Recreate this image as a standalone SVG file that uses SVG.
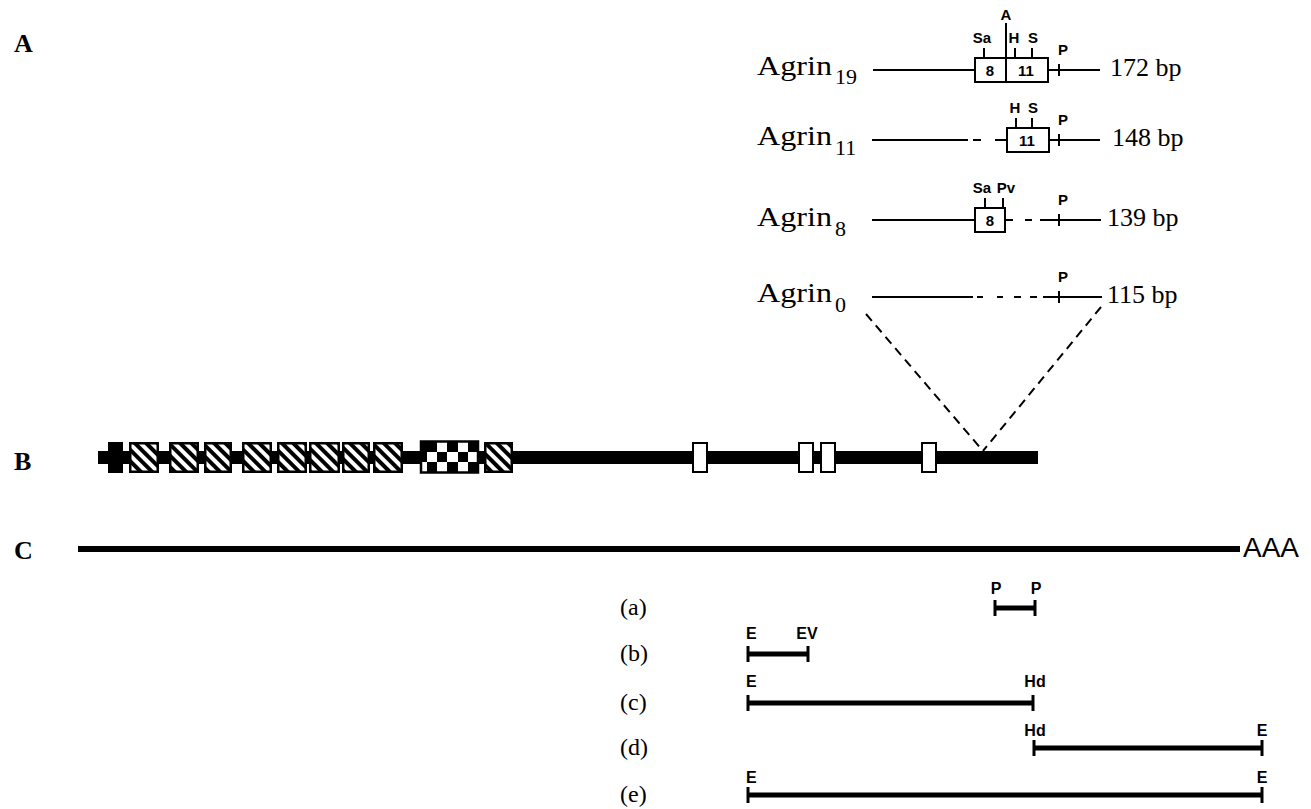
<svg xmlns="http://www.w3.org/2000/svg" width="1311" height="809" viewBox="0 0 1311 809">
<defs>
<style>
.panel{font-family:"Liberation Serif",serif;font-weight:bold;font-size:26px;fill:#000}
.agr{font-family:"Liberation Serif",serif;font-size:28px;fill:#000}
.sub{font-family:"Liberation Serif",serif;font-size:22px;fill:#000}
.bp{font-family:"Liberation Serif",serif;font-size:26px;fill:#000}
.site{font-family:"Liberation Sans",Arial,sans-serif;font-weight:bold;font-size:15px;text-anchor:middle;fill:#000}
.exn{font-family:"Liberation Sans",Arial,sans-serif;font-weight:bold;font-size:15px;text-anchor:middle;fill:#000}
.ln{stroke:#000;stroke-width:2;fill:none}
.box{fill:#fff;stroke:#000;stroke-width:2}
.tk{stroke:#000;stroke-width:2}
.frag{stroke:#000;stroke-width:5}
.ftk{stroke:#000;stroke-width:3}
.flab{font-family:"Liberation Serif",serif;font-size:24px;fill:#000}
.fsite{font-family:"Liberation Sans",Arial,sans-serif;font-weight:bold;font-size:16px;fill:#000}
.hat{fill:url(#hatch);stroke:#000;stroke-width:2.5}
.exo{fill:#fff;stroke:#000;stroke-width:2}
.dash{stroke:#000;stroke-width:2;stroke-dasharray:9 6;fill:none}
</style>
<pattern id="hatch" patternUnits="userSpaceOnUse" width="8" height="8" patternTransform="rotate(45)">
<rect width="8" height="8" fill="#fff"/>
<rect width="8" height="4" fill="#000"/>
</pattern>
</defs>
<rect width="1311" height="809" fill="#fff"/>

<g id="panel-labels">
<text class="panel" x="14" y="52">A</text>
<text class="panel" x="14" y="470">B</text>
<text class="panel" x="14" y="559">C</text>
</g>

<g id="agrin19">
<text class="agr" x="757" y="75" textLength="75" lengthAdjust="spacingAndGlyphs">Agrin</text>
<text class="sub" x="835" y="84">19</text>
<line class="ln" x1="873" y1="70" x2="975" y2="70"/>
<rect class="box" x="975" y="58" width="73" height="24"/>
<line class="ln" x1="1006" y1="23" x2="1006" y2="82"/>
<text class="site" x="1006" y="20">A</text>
<line class="tk" x1="984" y1="48" x2="984" y2="58"/>
<line class="tk" x1="1015" y1="48" x2="1015" y2="58"/>
<line class="tk" x1="1032" y1="48" x2="1032" y2="58"/>
<text class="site" x="982" y="43">Sa</text>
<text class="site" x="1014" y="43">H</text>
<text class="site" x="1033" y="43">S</text>
<text class="exn" x="990" y="76">8</text>
<text class="exn" x="1026" y="76">11</text>
<line class="ln" x1="1048" y1="70" x2="1100" y2="70"/>
<line class="tk" x1="1059" y1="64" x2="1059" y2="76"/>
<text class="site" x="1063" y="55">P</text>
<text class="bp" x="1110" y="76">172 bp</text>
</g>

<g id="agrin11">
<text class="agr" x="757" y="145" textLength="75" lengthAdjust="spacingAndGlyphs">Agrin</text>
<text class="sub" x="835" y="155">11</text>
<line class="ln" x1="872" y1="140" x2="968" y2="140"/>
<line class="ln" x1="973" y1="140" x2="981" y2="140"/>
<line class="ln" x1="995" y1="140" x2="1007" y2="140"/>
<rect class="box" x="1007" y="128" width="42" height="24"/>
<text class="exn" x="1027" y="146">11</text>
<line class="tk" x1="1016" y1="118" x2="1016" y2="128"/>
<line class="tk" x1="1032" y1="118" x2="1032" y2="128"/>
<text class="site" x="1015" y="113">H</text>
<text class="site" x="1033" y="113">S</text>
<line class="ln" x1="1049" y1="140" x2="1100" y2="140"/>
<line class="tk" x1="1059" y1="134" x2="1059" y2="146"/>
<text class="site" x="1063" y="125">P</text>
<text class="bp" x="1112" y="146">148 bp</text>
</g>

<g id="agrin8">
<text class="agr" x="757" y="226" textLength="75" lengthAdjust="spacingAndGlyphs">Agrin</text>
<text class="sub" x="835" y="236">8</text>
<line class="ln" x1="872" y1="220" x2="975" y2="220"/>
<rect class="box" x="975" y="208" width="30" height="24"/>
<text class="exn" x="990" y="226">8</text>
<line class="tk" x1="985" y1="198" x2="985" y2="208"/>
<line class="tk" x1="1003" y1="198" x2="1003" y2="208"/>
<text class="site" x="982" y="193">Sa</text>
<text class="site" x="1006" y="193">Pv</text>
<line class="ln" x1="1005" y1="220" x2="1013" y2="220"/>
<line class="ln" x1="1025" y1="220" x2="1032" y2="220"/>
<line class="ln" x1="1040" y1="220" x2="1101" y2="220"/>
<line class="tk" x1="1059" y1="214" x2="1059" y2="226"/>
<text class="site" x="1063" y="205">P</text>
<text class="bp" x="1107" y="226">139 bp</text>
</g>

<g id="agrin0">
<text class="agr" x="757" y="302" textLength="75" lengthAdjust="spacingAndGlyphs">Agrin</text>
<text class="sub" x="835" y="312">0</text>
<line class="ln" x1="872" y1="297" x2="973" y2="297"/>
<line class="ln" x1="977" y1="297" x2="983" y2="297"/>
<line class="ln" x1="997" y1="297" x2="1003" y2="297"/>
<line class="ln" x1="1014" y1="297" x2="1021" y2="297"/>
<line class="ln" x1="1030" y1="297" x2="1037" y2="297"/>
<line class="ln" x1="1043" y1="297" x2="1102" y2="297"/>
<line class="tk" x1="1059" y1="291" x2="1059" y2="303"/>
<text class="site" x="1063" y="282">P</text>
<text class="bp" x="1107" y="303">115 bp</text>
</g>

<g id="connectors">
<line class="dash" x1="866" y1="314" x2="983" y2="451"/>
<line class="dash" x1="1101" y1="307" x2="983" y2="451"/>
</g>

<g id="agrin-gene-B">
<rect x="98" y="451" width="940" height="13" fill="#000"/>
<rect x="108" y="442" width="15" height="31" fill="#000"/>
<rect class="hat" x="130.25" y="443.25" width="27.5" height="28.5"/>
<rect class="hat" x="170.25" y="443.25" width="27.5" height="28.5"/>
<rect class="hat" x="205.25" y="443.25" width="25.5" height="28.5"/>
<rect class="hat" x="243.25" y="443.25" width="27.5" height="28.5"/>
<rect class="hat" x="278.25" y="443.25" width="27.5" height="28.5"/>
<rect class="hat" x="310.25" y="443.25" width="28.5" height="28.5"/>
<rect class="hat" x="343.25" y="443.25" width="25.5" height="28.5"/>
<rect class="hat" x="374.25" y="443.25" width="27.5" height="28.5"/>
<g id="checker">
<rect x="421" y="441.5" width="57" height="31" fill="#fff" stroke="#000" stroke-width="2.5"/>
<rect x="422" y="442" width="15" height="10" fill="#000"/>
<rect x="447" y="442" width="11" height="10" fill="#000"/>
<rect x="468" y="442" width="10" height="10" fill="#000"/>
<rect x="422" y="452" width="5" height="10" fill="#000"/>
<rect x="437" y="452" width="10" height="10" fill="#000"/>
<rect x="458" y="452" width="10" height="10" fill="#000"/>
<rect x="427" y="462" width="10" height="10" fill="#000"/>
<rect x="447" y="462" width="11" height="10" fill="#000"/>
<rect x="468" y="462" width="10" height="10" fill="#000"/>
</g>
<rect class="hat" x="485.25" y="443.25" width="26.5" height="28.5"/>
<rect class="exo" x="693" y="443" width="14" height="29"/>
<rect class="exo" x="799" y="443" width="14" height="29"/>
<rect class="exo" x="821" y="443" width="14" height="29"/>
<rect class="exo" x="922" y="443" width="14" height="29"/>
</g>

<g id="mrna-C">
<line x1="78" y1="549" x2="1240" y2="549" stroke="#000" stroke-width="6"/>
<text x="1243" y="557" font-family="Liberation Sans, Arial, sans-serif" font-size="27" textLength="56" lengthAdjust="spacingAndGlyphs">AAA</text>
</g>

<g id="fragment-a">
<text class="flab" x="620" y="615">(a)</text>
<line class="frag" x1="995" y1="608" x2="1035" y2="608"/>
<line class="ftk" x1="995" y1="600" x2="995" y2="616"/>
<line class="ftk" x1="1035" y1="600" x2="1035" y2="616"/>
<text class="fsite" x="996" y="594" text-anchor="middle">P</text>
<text class="fsite" x="1036" y="594" text-anchor="middle">P</text>
</g>

<g id="fragment-b">
<text class="flab" x="620" y="661">(b)</text>
<line class="frag" x1="748" y1="654" x2="808" y2="654"/>
<line class="ftk" x1="748" y1="646" x2="748" y2="662"/>
<line class="ftk" x1="808" y1="646" x2="808" y2="662"/>
<text class="fsite" x="746" y="639">E</text>
<text class="fsite" x="807" y="639" text-anchor="middle">EV</text>
</g>

<g id="fragment-c">
<text class="flab" x="620" y="710">(c)</text>
<line class="frag" x1="748" y1="703" x2="1033" y2="703"/>
<line class="ftk" x1="748" y1="695" x2="748" y2="711"/>
<line class="ftk" x1="1033" y1="695" x2="1033" y2="711"/>
<text class="fsite" x="746" y="687">E</text>
<text class="fsite" x="1035" y="687" text-anchor="middle">Hd</text>
</g>

<g id="fragment-d">
<text class="flab" x="620" y="755">(d)</text>
<line class="frag" x1="1034" y1="748" x2="1262" y2="748"/>
<line class="ftk" x1="1034" y1="740" x2="1034" y2="756"/>
<line class="ftk" x1="1262" y1="740" x2="1262" y2="756"/>
<text class="fsite" x="1035" y="736" text-anchor="middle">Hd</text>
<text class="fsite" x="1262" y="736" text-anchor="middle">E</text>
</g>

<g id="fragment-e">
<text class="flab" x="620" y="802">(e)</text>
<line class="frag" x1="748" y1="795" x2="1262" y2="795"/>
<line class="ftk" x1="748" y1="787" x2="748" y2="803"/>
<line class="ftk" x1="1262" y1="787" x2="1262" y2="803"/>
<text class="fsite" x="746" y="783">E</text>
<text class="fsite" x="1262" y="783" text-anchor="middle">E</text>
</g>
</svg>
